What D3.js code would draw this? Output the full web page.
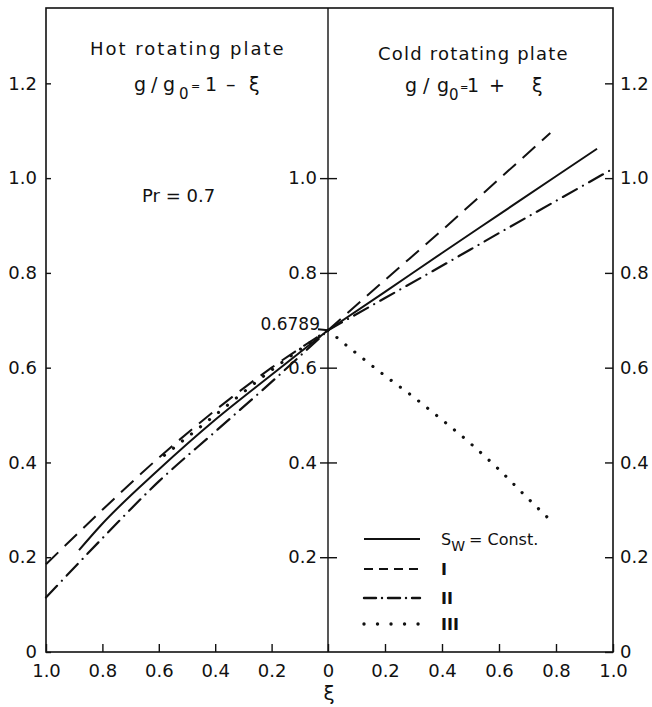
<!DOCTYPE html>
<html>
<head>
<meta charset="utf-8">
<script src="https://cdn.jsdelivr.net/npm/d3@7"></script>
<style>
  body { margin: 0; background: #fff; }
  text { font-family: "DejaVu Sans", sans-serif; fill: #111; }
</style>
</head>
<body>
<div id="chart"></div>
<script>
// ---- data ----
const yTicks = [0, 0.2, 0.4, 0.6, 0.8, 1.0, 1.2];
const centerTicks = [0.2, 0.4, 0.6, 0.8, 1.0];
const xTicksLeft = [1.0, 0.8, 0.6, 0.4, 0.2];
const xTicksRight = [0, 0.2, 0.4, 0.6, 0.8, 1.0];
const wallValue = 0.6789;

// hot rotating plate (left half), xi runs 1 -> 0
const solidLeftXi = [0.883, 0.806, 0.6, 0.4, 0.2, 0];
const solidLeftVal = [0.215, 0.267, 0.385, 0.49, 0.585, 0.6789];
const dashedLeftXi = [1.0, 0.8, 0.6, 0.4, 0.2, 0];
const dashedLeftVal = [0.185, 0.30, 0.41, 0.51, 0.60, 0.6789];
const dashDotLeftXi = [1.0, 0.8, 0.6, 0.4, 0.2, 0];
const dashDotLeftVal = [0.115, 0.24, 0.36, 0.465, 0.57, 0.6789];
const dottedLeftXi = [0.58, 0.4, 0.2, 0];
const dottedLeftVal = [0.415, 0.50, 0.595, 0.6789];

// cold rotating plate (right half), xi runs 0 -> 1
const solidRightXi = [0, 0.2, 0.4, 0.6, 0.8, 0.944];
const solidRightVal = [0.6789, 0.76, 0.842, 0.923, 1.004, 1.062];
const dashedRightXi = [0, 0.2, 0.4, 0.6, 0.78];
const dashedRightVal = [0.6789, 0.785, 0.89, 0.998, 1.095];
const dashDotRightXi = [0, 0.2, 0.4, 0.6, 0.8, 1.0];
const dashDotRightVal = [0.6789, 0.747, 0.815, 0.884, 0.952, 1.02];
const dottedRightXi = [0, 0.1, 0.2, 0.3, 0.4, 0.5, 0.6, 0.7, 0.77];
const dottedRightVal = [0.6789, 0.63, 0.583, 0.538, 0.49, 0.44, 0.385, 0.325, 0.284];

const legendLabels = ["S_W", "I", "II", "III"];

// ---- layout ----
const width = 652, height = 707;
const frameL = 46, frameM = 328, frameR = 613, frameT = 8, frameB = 652;

const svg = d3.select("#chart").append("svg")
    .attr("width", width)
    .attr("height", height);

const y = d3.scaleLinear().domain([0, 1.359]).range([frameB, frameT]);
const xL = d3.scaleLinear().domain([1, 0]).range([frameL, frameM]);
const xR = d3.scaleLinear().domain([0, 1]).range([frameM, frameR]);

const fmt = d => d === 0 ? "0" : d3.format(".1f")(d);
const ink = "#111";

// styles for the four curves
const styles = {
    solid:   { dash: null, w: 2, cap: "butt" },
    dashed:  { dash: "17,9", w: 2, cap: "butt" },
    dashDot: { dash: "16,7,0.01,7", w: 2.2, cap: "round" },
    dotted:  { dash: "0.01,11.5", w: 3.2, cap: "round" }
};

// frame
svg.append("rect")
    .attr("x", frameL).attr("y", frameT)
    .attr("width", frameR - frameL).attr("height", frameB - frameT)
    .attr("fill", "none").attr("stroke", ink).attr("stroke-width", 1.6);
svg.append("line")
    .attr("x1", frameM).attr("x2", frameM).attr("y1", frameT).attr("y2", frameB)
    .attr("stroke", ink).attr("stroke-width", 1.4);

function styleAxis(g) {
    g.select(".domain").remove();
    g.selectAll(".tick line").attr("stroke", ink).attr("stroke-width", 1.4);
    g.selectAll(".tick text")
        .attr("fill", ink)
        .style("font-family", "DejaVu Sans, sans-serif")
        .style("font-size", "18px");
}

// left y axis: ticks inward
svg.append("g")
    .attr("transform", `translate(${frameL},0)`)
    .call(d3.axisLeft(y).tickValues(yTicks).tickFormat(fmt).tickSizeInner(-5).tickSizeOuter(0).tickPadding(9))
    .call(styleAxis);

// centre axis: ticks cross the line
svg.append("g")
    .attr("transform", `translate(${frameM},0)`)
    .call(d3.axisLeft(y).tickValues(centerTicks).tickFormat(fmt).tickSizeInner(8).tickSizeOuter(0).tickPadding(3))
    .call(styleAxis)
    .call(g => g.selectAll(".tick line").attr("x1", 9));

// right y axis: ticks inward, labels outside
svg.append("g")
    .attr("transform", `translate(${frameR},0)`)
    .call(d3.axisRight(y).tickValues(yTicks).tickFormat(fmt).tickSizeInner(-8).tickSizeOuter(0).tickPadding(7))
    .call(styleAxis);

// bottom axes
svg.append("g")
    .attr("transform", `translate(0,${frameB})`)
    .call(d3.axisBottom(xL).tickValues(xTicksLeft).tickFormat(fmt).tickSizeInner(-8).tickSizeOuter(0).tickPadding(12))
    .call(styleAxis);
svg.append("g")
    .attr("transform", `translate(0,${frameB})`)
    .call(d3.axisBottom(xR).tickValues(xTicksRight).tickFormat(fmt).tickSizeInner(-8).tickSizeOuter(0).tickPadding(12))
    .call(styleAxis);

// x axis title
svg.append("text")
    .attr("x", frameM + 1).attr("y", 700)
    .attr("text-anchor", "middle")
    .style("font-size", "20px")
    .text("ξ");

// curves
function drawCurve(xScale, xs, vs, st) {
    const pts = xs.map((d, i) => [d, vs[i]]);
    const line = d3.line()
        .x(d => xScale(d[0]))
        .y(d => y(d[1]))
        .curve(d3.curveMonotoneX);
    svg.append("path")
        .datum(xScale === xL ? pts.slice().sort((a, b) => b[0] - a[0]) : pts)
        .attr("d", line)
        .attr("fill", "none")
        .attr("stroke", ink)
        .attr("stroke-width", st.w)
        .attr("stroke-linecap", st.cap)
        .attr("stroke-dasharray", st.dash);
}

drawCurve(xL, solidLeftXi, solidLeftVal, styles.solid);
drawCurve(xL, dashedLeftXi, dashedLeftVal, styles.dashed);
drawCurve(xL, dashDotLeftXi, dashDotLeftVal, styles.dashDot);
drawCurve(xL, dottedLeftXi, dottedLeftVal, styles.dotted);

drawCurve(xR, solidRightXi, solidRightVal, styles.solid);
drawCurve(xR, dashedRightXi, dashedRightVal, styles.dashed);
drawCurve(xR, dashDotRightXi, dashDotRightVal, styles.dashDot);
drawCurve(xR, dottedRightXi, dottedRightVal, styles.dotted);

// wall value marker
svg.append("text")
    .attr("x", 320).attr("y", y(wallValue))
    .attr("text-anchor", "end")
    .style("font-size", "17px")
    .text(d3.format(".4f")(wallValue));
svg.append("line")
    .attr("x1", 318).attr("x2", frameM)
    .attr("y1", y(wallValue) - 1).attr("y2", y(wallValue))
    .attr("stroke", ink).attr("stroke-width", 2);

// panel titles
function title(x, yy, s, ls) {
    svg.append("text")
        .attr("x", x).attr("y", yy)
        .style("font-size", "18px")
        .style("letter-spacing", ls + "px")
        .text(s);
}
title(90, 55, "Hot rotating plate", 2);
title(378, 60, "Cold rotating plate", 1.2);

// formula pieces: [x, text, dy, font-size]
function formula(yy, parts) {
    const t = svg.append("text").attr("y", yy).style("font-size", "19px");
    parts.forEach(p => {
        const s = t.append("tspan").attr("x", p[0]).attr("y", yy + (p[2] || 0)).text(p[1]);
        if (p[3]) s.style("font-size", p[3]);
    });
}
formula(91, [[134, "g"], [151, "/"], [163, "g"], [179, "0", 8, "15px"], [191, "=", -1, "11px"], [205, "1"], [226, "–"], [249, "ξ"]]);
formula(92, [[405, "g"], [423, "/"], [437, "g"], [449, "0", 8, "15px"], [460, "=", -1, "10px"], [467, "1"], [489, "+"], [532, "ξ"]]);

svg.append("text")
    .attr("x", 142).attr("y", 202)
    .style("font-size", "18px")
    .text("Pr = 0.7");

// legend
const legendRows = [539, 569, 598, 624];
const legendStyles = [
    { dash: null, w: 2.2, cap: "butt" },
    { dash: "9,6", w: 2.2, cap: "butt" },
    { dash: "12,6,0.01,6", w: 2.4, cap: "round" },
    { dash: "0.01,13.5", w: 3.4, cap: "round" }
];
legendRows.forEach((ly, i) => {
    svg.append("line")
        .attr("x1", 364).attr("x2", 420)
        .attr("y1", ly).attr("y2", ly)
        .attr("stroke", ink)
        .attr("stroke-width", legendStyles[i].w)
        .attr("stroke-linecap", legendStyles[i].cap)
        .attr("stroke-dasharray", legendStyles[i].dash);
});
const lt = svg.append("text").attr("x", 441).attr("y", 545).style("font-size", "16px");
lt.append("tspan").text("S");
lt.append("tspan").attr("dy", 6).style("font-size", "14px").text("W");
lt.append("tspan").attr("dy", -6).attr("dx", 4).text("= Const.");
legendLabels.slice(1).forEach((s, i) => {
    svg.append("text")
        .attr("x", 441).attr("y", legendRows[i + 1] + 6)
        .style("font-size", "16px")
        .style("font-weight", "bold")
        .text(s);
});
</script>
</body>
</html>
